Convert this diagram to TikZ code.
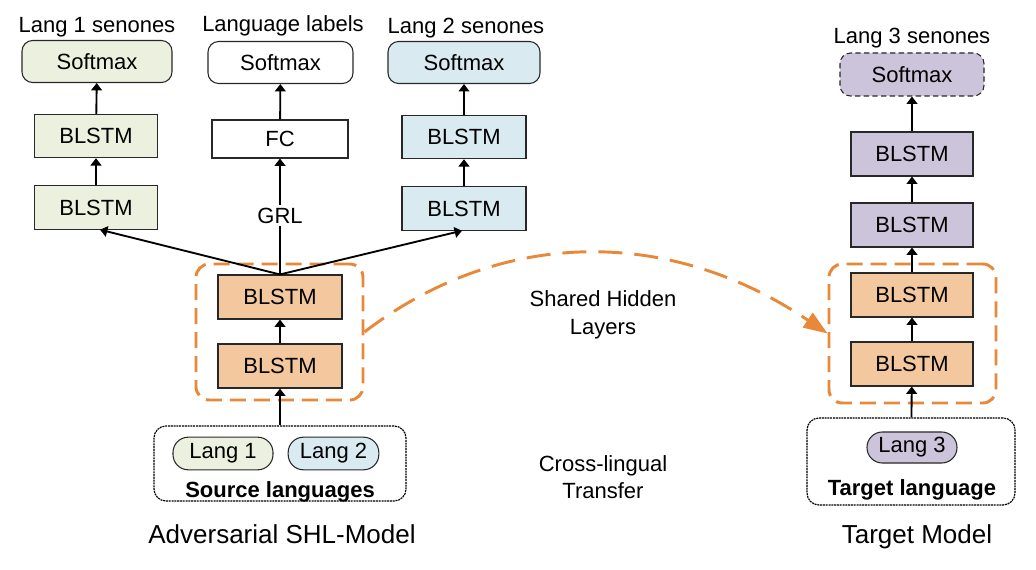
\documentclass[tikz,border=0pt]{standalone}
\usepackage{fontspec}
\setmainfont{Liberation Sans}
\usetikzlibrary{arrows.meta,calc}
\definecolor{cgreen}{RGB}{235,241,222}
\definecolor{cblue}{RGB}{218,234,241}
\definecolor{corange}{RGB}{243,200,158}
\definecolor{cpurple}{RGB}{204,196,219}
\definecolor{cdash}{RGB}{232,137,58}
\definecolor{cedge}{RGB}{40,40,40}
\begin{document}
\begin{tikzpicture}[x=0.75pt,y=-0.75pt,
  every node/.style={font=\fontsize{16.5}{19}\selectfont, inner sep=0pt},
  blk/.style={draw=cedge, line width=0.8pt, minimum width=92pt, minimum height=32.5pt},
  smx/.style={draw=cedge, line width=0.8pt, rounded corners=8pt, minimum height=31.5pt},
  pill/.style={draw=cedge, line width=0.8pt, rounded corners=11.5pt, minimum height=24.5pt},
  lbl/.style={anchor=base},
  bld/.style={anchor=base, font=\fontsize{16.5}{19}\selectfont\bfseries},
  ttl/.style={anchor=base, font=\fontsize{19.5}{23}\selectfont},
  arr/.style={line width=1.4pt, -{Triangle[length=5.5pt,width=8pt]}},
  grp/.style={draw=cdash, line width=2.2pt, dash pattern=on 12pt off 6pt, rounded corners=10pt},
  srcbox/.style={draw=black, line width=0.9pt, dash pattern=on 1.5pt off 0.6pt, rounded corners=9pt}
]
\useasboundingbox (0,0) rectangle (1036,570);

% shared-layer groups
\node[grp, minimum width=125.25pt, minimum height=102pt] (grpL) at (279.5,332) {};
\node[grp, minimum width=125.25pt, minimum height=104.25pt] (grpR) at (912.5,333.5) {};

% ---------- Adversarial SHL-Model ----------
\node[lbl] (L1t) at (97,33) {Lang 1 senones};
\node[smx, fill=cgreen, minimum width=112.5pt] (L1s) at (97,61.5) {Softmax};
\node[blk, fill=cgreen] (L1b) at (96,136) {BLSTM};
\node[blk, fill=cgreen] (L1a) at (96,207.5) {BLSTM};

\node[lbl] (LLt) at (283,32) {Language labels};
\node[smx, fill=white, minimum width=108.75pt] (LLs) at (280.5,62.5) {Softmax};
\node[draw=cedge, line width=0.8pt, minimum width=102pt, minimum height=28.5pt] (FC) at (280,139) {FC};
\node[inner sep=2pt] (GRL) at (280,215.5) {GRL};

\node[lbl] (L2t) at (466,34) {Lang 2 senones};
\node[smx, fill=cblue, minimum width=114pt] (L2s) at (464,62.5) {Softmax};
\node[blk, fill=cblue, minimum width=93pt] (L2b) at (464,137) {BLSTM};
\node[blk, fill=cblue, minimum width=93pt] (L2a) at (464,208.5) {BLSTM};

\node[blk, fill=corange, minimum width=93pt, minimum height=33pt] (S2) at (280,297) {BLSTM};
\node[blk, fill=corange, minimum width=93pt, minimum height=33pt] (S1) at (280,366) {BLSTM};

\node[srcbox, minimum width=189pt, minimum height=56.25pt] (SRC) at (280,463.5) {};
\node[pill, fill=cgreen, minimum width=75pt] (P1) at (223,453.5) {Lang 1};
\node[pill, fill=cblue, minimum width=68pt] (P2) at (333.5,453.5) {Lang 2};
\node[bld] (SRCt) at (280,497) {Source languages};
\node[ttl] (ADV) at (282,543) {Adversarial SHL-Model};

% ---------- middle texts ----------
\node[lbl] (SH1) at (603,307) {Shared Hidden};
\node[lbl] (SH2) at (603,335) {Layers};
\node[lbl] (CL1) at (603,471) {Cross-lingual};
\node[lbl] (CL2) at (603,498) {Transfer};

% ---------- Target Model ----------
\node[lbl] (L3t) at (912,44) {Lang 3 senones};
\node[smx, fill=cpurple, dash pattern=on 4pt off 2.5pt, minimum width=108pt, minimum height=32.25pt] (Ts) at (912,74.5) {Softmax};
\node[blk, fill=cpurple, minimum width=91.5pt, minimum height=33pt] (T4) at (912,154) {BLSTM};
\node[blk, fill=cpurple, minimum width=91.5pt, minimum height=33pt] (T3) at (912,225) {BLSTM};
\node[blk, fill=corange, minimum width=91.5pt, minimum height=33pt] (T2) at (912,295) {BLSTM};
\node[blk, fill=corange, minimum width=91.5pt, minimum height=33pt] (T1) at (912,364) {BLSTM};

\node[srcbox, minimum width=156pt, minimum height=65.25pt] (TGT) at (911,461.5) {};
\node[pill, fill=cpurple, minimum width=67.5pt, minimum height=23.25pt] (P3) at (912,447.5) {Lang 3};
\node[bld] (TGTt) at (912,495) {Target language};
\node[ttl] (TM) at (917,543) {Target Model};

% ---------- connectors ----------
\draw[arr] (L1a) -- (L1b);
\draw[arr] (L1b) -- (L1s);
\draw[arr] (FC) -- (LLs);
\draw[arr] (L2a) -- (L2b);
\draw[arr] (L2b) -- (L2s);
\draw[arr] (SRC) -- (S1);
\draw[arr] (S1) -- (S2);
\draw[arr] (S2.north) -- ($(L1a.south)+(4,0)$);
\draw[arr] (S2.north) -- ($(L2a.south)+(-2,0)$);
\draw[line width=1.4pt] (S2.north) -- (GRL.south);
\draw[arr] (GRL.north) -- (FC);

\draw[arr] (TGT) -- (T1);
\draw[arr] (T1) -- (T2);
\draw[arr] (T2) -- (T3);
\draw[arr] (T3) -- (T4);
\draw[arr] (T4) -- (Ts);

\draw[cdash, line width=2.2pt, dash pattern=on 18pt off 9pt,
  -{Triangle[length=18pt,width=13pt]}]
  (grpL.east) .. controls (502,227) and (670,227) .. (grpR.west);
\end{tikzpicture}
\end{document}
